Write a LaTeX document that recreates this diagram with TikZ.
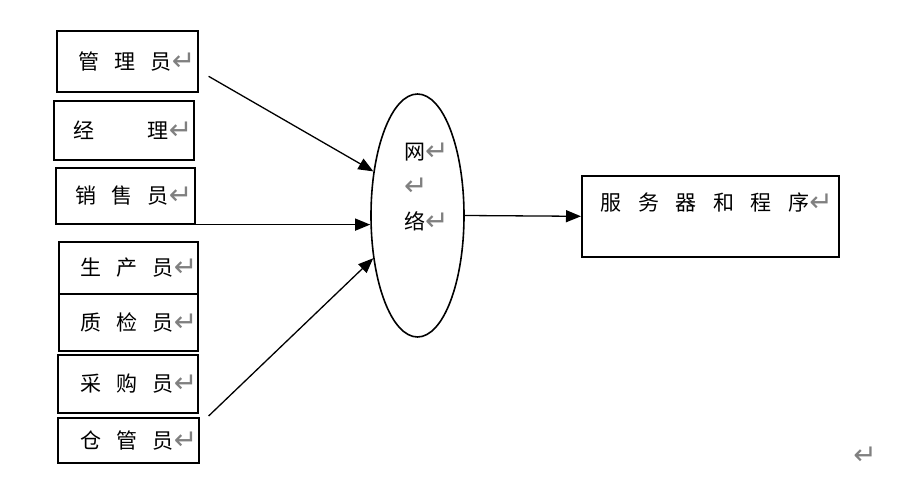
\documentclass[tikz,border=0pt]{standalone}
\usepackage{fontspec}
\newfontfamily\cjk{Noto Sans CJK SC}
\newfontfamily\dejavu{DejaVu Sans}
\usetikzlibrary{shapes.geometric,arrows.meta}
\definecolor{markgray}{gray}{0.5}
\newcommand\parmark{\raisebox{-1pt}[0pt][0pt]{\dejavu\color{markgray}\fontsize{28}{28}\selectfont ↵}}
\newcommand\gap[1][15pt]{\hspace{#1}}
\tikzset{
  role/.style={draw, line width=1.6pt, anchor=north west, inner xsep=0pt,
    inner ysep=0pt, align=left, font=\cjk\fontsize{21}{21}\selectfont},
  link/.style={line width=1.3pt, -{Triangle[length=15pt,width=12pt]}}
}
\begin{document}
\begin{tikzpicture}[x=1pt,y=-1pt]
  \useasboundingbox (0,0) rectangle (897,500);
  % staff boxes
  \node[role, text width=141pt, minimum height=61pt] (admin) at (56,30) {\hspace*{22pt}管\gap 理\gap 员\parmark};
  \node[role, text width=140pt, minimum height=59pt] (manager) at (53,100) {\hspace*{20pt}经\gap[53pt]理\parmark};
  \node[role, text width=139pt, minimum height=56pt] (sales) at (55,167) {\hspace*{20pt}销\gap 售\gap 员\parmark};
  \node[role, text width=139pt, minimum height=52pt] (production) at (58,241) {\hspace*{22pt}生\gap 产\gap 员\parmark};
  \node[role, text width=139pt, minimum height=57pt] (inspector) at (58,293) {\hspace*{22pt}质\gap 检\gap 员\parmark};
  \node[role, text width=140pt, minimum height=58pt] (buyer) at (57,354) {\hspace*{23pt}采\gap 购\gap 员\parmark};
  \node[role, text width=141pt, minimum height=45pt] (keeper) at (57,417) {\hspace*{23pt}仓\gap 管\gap 员\parmark};
  % network
  \node[draw, ellipse, line width=1.6pt, minimum width=93pt, minimum height=243pt, inner sep=0pt] (net) at (417.5,215.5) {};
  \node[anchor=north west, inner sep=0pt, align=left, font=\cjk\fontsize{21}{35}\selectfont] (nettext) at (404,143) {网\parmark\\\parmark\\络\parmark};
  % server
  \node[role, text width=257pt, text height=35pt, text depth=46pt] (server) at (581,175) {\hspace*{19pt}服\gap[16.5pt]务\gap[16.5pt]器\gap[16.5pt]和\gap[16.5pt]程\gap[16.5pt]序\parmark};
  \node[inner sep=0pt] (endmark) at (865,463) {\parmark};
  % links
  \draw[link] ([shift={(10,15)}]admin.east) -- (net.135);
  \draw[link] (sales.south east) -- (sales.south east -| net.west);
  \draw[link] ([shift={(9,-1)}]keeper.north east) -- (net.224);
  \draw[link] (net.east) -- (server.west);
\end{tikzpicture}
\end{document}
